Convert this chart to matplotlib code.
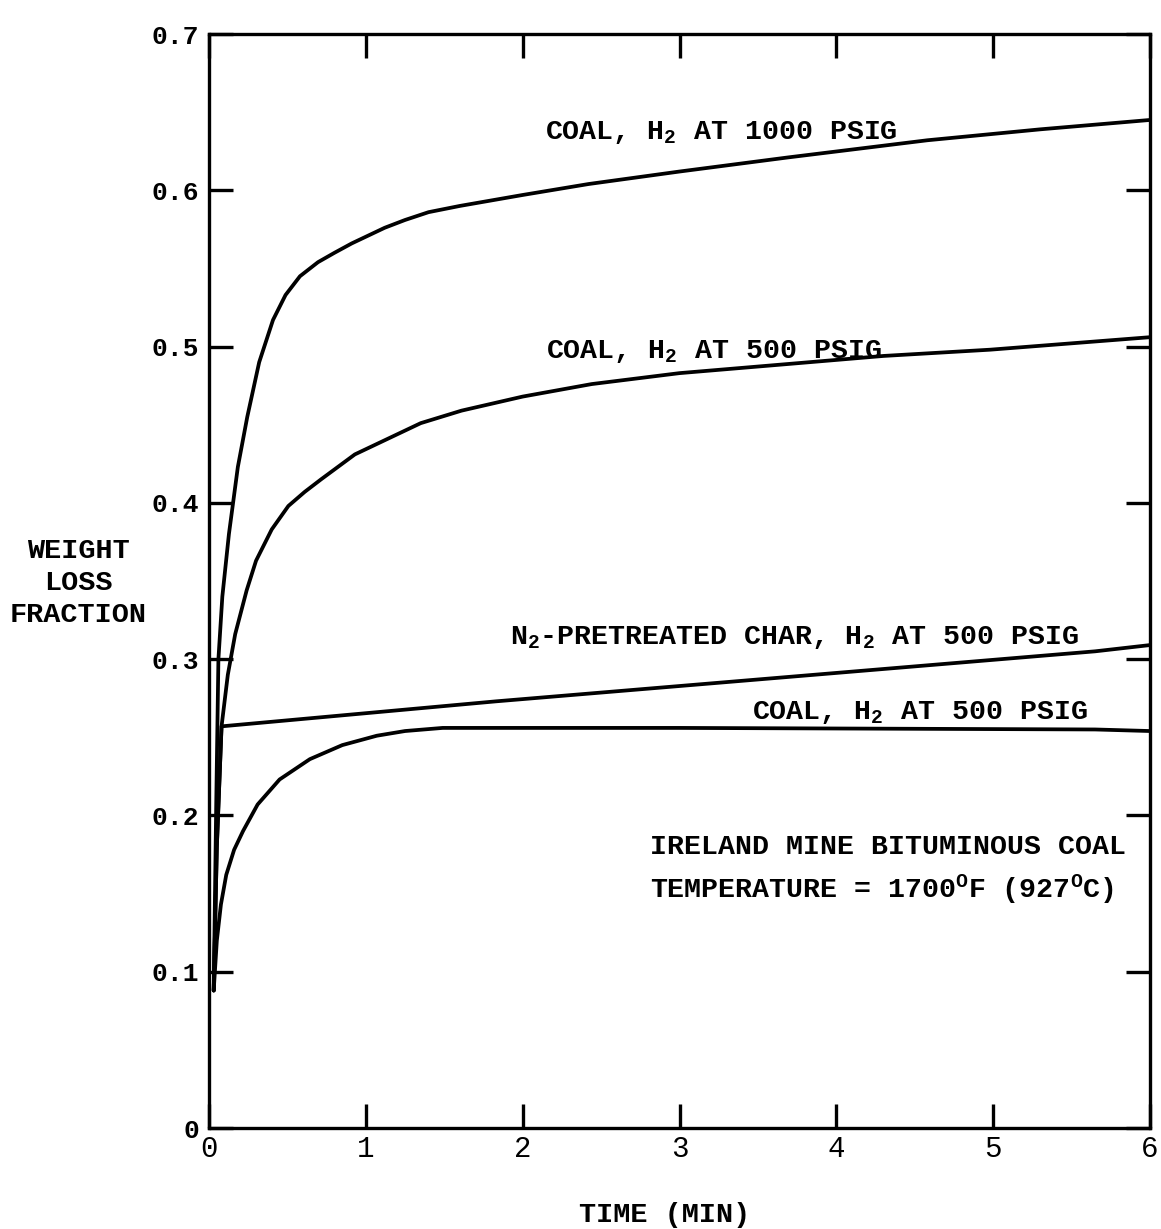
import matplotlib
matplotlib.use("Agg")
import matplotlib.pyplot as plt

# typewriter-style lettering everywhere, subscripts included
plt.rcParams['font.family'] = ['Liberation Mono', 'DejaVu Sans Mono']
plt.rcParams['font.weight'] = 'bold'
plt.rcParams['mathtext.fontset'] = 'custom'
plt.rcParams['mathtext.rm'] = 'Liberation Mono:bold'
plt.rcParams['mathtext.it'] = 'Liberation Mono:bold'
plt.rcParams['mathtext.bf'] = 'Liberation Mono:bold'

# time (min) and weight loss fraction for each run
coal_1000_t = [0.03, 0.045, 0.06, 0.085, 0.127, 0.184, 0.244, 0.32, 0.408, 0.488, 0.58, 0.695, 0.80, 0.91,
               1.12, 1.25, 1.40, 1.60, 2.0, 2.42, 3.0, 3.69, 4.58, 5.3, 6.0]
coal_1000_w = [0.088, 0.20, 0.30, 0.34, 0.38, 0.423, 0.455, 0.49, 0.517, 0.533, 0.545, 0.554, 0.560, 0.566,
               0.576, 0.581, 0.586, 0.590, 0.597, 0.604, 0.612, 0.621, 0.632, 0.639, 0.645]

coal_500_t = [0.03, 0.05, 0.08, 0.12, 0.167, 0.24, 0.30, 0.40, 0.506, 0.61, 0.714, 0.93, 1.14, 1.35, 1.61,
              2.0, 2.44, 3.0, 3.71, 4.3, 4.98, 6.0]
coal_500_w = [0.088, 0.18, 0.257, 0.29, 0.316, 0.344, 0.363, 0.383, 0.398, 0.407, 0.415, 0.431, 0.441, 0.451, 0.459,
              0.468, 0.476, 0.483, 0.489, 0.494, 0.498, 0.506]

char_500_t = [0.03, 0.05, 0.08, 1.83, 5.65, 6.0]
char_500_w = [0.088, 0.18, 0.257, 0.273, 0.305, 0.309]

coal_500b_t = [0.03, 0.05, 0.076, 0.11, 0.16, 0.217, 0.31, 0.45, 0.643, 0.85, 1.07, 1.25, 1.49, 1.83, 3.0, 5.65, 6.0]
coal_500b_w = [0.088, 0.12, 0.143, 0.162, 0.178, 0.19, 0.207, 0.223, 0.236, 0.245, 0.251, 0.254, 0.256, 0.256,
               0.256, 0.255, 0.254]

x_ticks = [0, 1, 2, 3, 4, 5, 6]
y_ticks = [0, 0.1, 0.2, 0.3, 0.4, 0.5, 0.6, 0.7]
y_tick_labels = ['0', '0.1', '0.2', '0.3', '0.4', '0.5', '0.6', '0.7']

fig = plt.figure(figsize=(11.61, 12.29), dpi=100)
ax = fig.add_axes([209 / 1161, 101 / 1229, 941 / 1161, 1094 / 1229])

for t, w in [(coal_1000_t, coal_1000_w), (coal_500_t, coal_500_w),
             (char_500_t, char_500_w), (coal_500b_t, coal_500b_w)]:
    ax.plot(t, w, color='black', lw=2.7, solid_capstyle='round', solid_joinstyle='round')

ax.set_xlim(0, 6)
ax.set_ylim(0, 0.7)
ax.set_xticks(x_ticks)
ax.set_xticklabels([str(v) for v in x_ticks], fontsize=21, fontweight='normal')
ax.set_yticks(y_ticks)
ax.set_yticklabels(y_tick_labels, fontsize=19, fontweight='bold')
ax.tick_params(direction='in', length=17, width=2.4, top=True, right=True)
ax.tick_params(axis='x', pad=5)
ax.tick_params(axis='y', pad=7)
for s in ax.spines.values():
    s.set_linewidth(2.4)

# curve labels
fs = 20.3
ax.text(2.14, 0.633, 'COAL, H$_2$ AT 1000 PSIG', fontsize=fs, va='baseline')
ax.text(2.15, 0.493, 'COAL, H$_2$ AT 500 PSIG', fontsize=fs, va='baseline')
ax.text(1.92, 0.310, 'N$_2$-PRETREATED CHAR, H$_2$ AT 500 PSIG', fontsize=fs, va='baseline')
ax.text(3.46, 0.262, 'COAL, H$_2$ AT 500 PSIG', fontsize=fs, va='baseline')
ax.text(2.81, 0.175, 'IRELAND MINE BITUMINOUS COAL', fontsize=fs, va='baseline')
ax.text(2.81, 0.1474, 'TEMPERATURE = 1700$^\\mathregular{O}$F (927$^\\mathregular{O}$C)', fontsize=fs, va='baseline')

# axis titles
fig.text(78 / 1161, 1 - 583 / 1229, 'WEIGHT\nLOSS\nFRACTION', fontsize=20.5,
         ha='center', va='center', multialignment='center', linespacing=1.3)
fig.text(665 / 1161, 1 - 1215 / 1229, 'TIME (MIN)', fontsize=20.5, ha='center', va='center')

fig.savefig('out.png', dpi=100)
